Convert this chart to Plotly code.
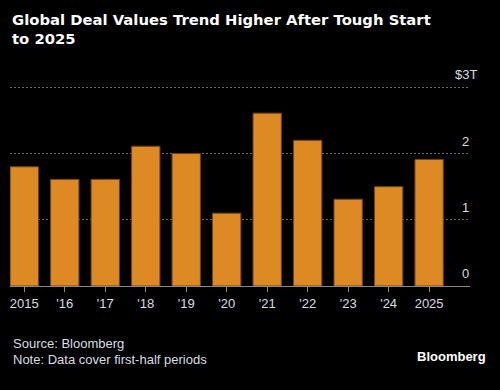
import plotly.graph_objects as go

categories = ["2015", "'16", "'17", "'18", "'19", "'20", "'21", "'22", "'23", "'24", "2025"]
values = [1.80, 1.61, 1.61, 2.11, 2.00, 1.10, 2.61, 2.20, 1.31, 1.50, 1.91]
y_tick_vals = [0, 1, 2, 3]
y_tick_text = ["0", "1", "2", "$3T"]

W, H = 500, 390
L, R, T, B = 10, 30, 84, 104
PW, PH = W - L - R, H - T - B

def px(x):
    return (x - L) / PW

def py(y):
    return (H - B - y) / PH

BAR = "#de8a24"
TXT = "#d9dde2"
FONT = "Liberation Sans"

fig = go.Figure()
fig.add_trace(go.Bar(
    x=list(range(len(categories))), y=values,
    marker=dict(color=BAR, line=dict(color="#6e4512", width=1)),
    hoverinfo="skip",
))

annotations = []
for v, t in zip(y_tick_vals, y_tick_text):
    annotations.append(dict(
        x=1, xref="paper", y=v, yref="y", text=t, showarrow=False,
        xanchor="right", yanchor="bottom", yshift=3,
        xshift=9 if t.endswith("T") else 1,
        font=dict(family=FONT, size=13, color=TXT),
    ))

annotations += [
    dict(x=px(11), y=py(343), xref="paper", yref="paper", text="Source: Bloomberg",
         showarrow=False, xanchor="left", yanchor="middle",
         font=dict(family=FONT, size=13, color=TXT)),
    dict(x=px(11), y=py(359), xref="paper", yref="paper", text="Note: Data cover first-half periods",
         showarrow=False, xanchor="left", yanchor="middle",
         font=dict(family=FONT, size=13, color=TXT)),
    dict(x=px(488), y=py(356), xref="paper", yref="paper", text="<b>Bloomberg</b>",
         showarrow=False, xanchor="right", yanchor="middle",
         font=dict(family=FONT, size=13, color="#ffffff")),
    dict(x=px(10), y=py(20), xref="paper", yref="paper",
         text="<b>Global Deal Values Trend Higher After Tough Start</b>",
         showarrow=False, xanchor="left", yanchor="middle",
         font=dict(family="DejaVu Sans", size=14.8, color="#ffffff")),
    dict(x=px(10), y=py(38), xref="paper", yref="paper",
         text="<b>to 2025</b>",
         showarrow=False, xanchor="left", yanchor="middle",
         font=dict(family="DejaVu Sans", size=14.8, color="#ffffff")),
]

fig.update_layout(
    width=W, height=H,
    margin=dict(l=L, r=R, t=T, b=B, pad=0),
    paper_bgcolor="#000000", plot_bgcolor="#000000",
    showlegend=False, bargap=0.3,
    annotations=annotations,
    xaxis=dict(
        tickmode="array", tickvals=list(range(len(categories))), ticktext=categories,
        range=[-0.353, 11.01], showgrid=False, zeroline=False,
        showline=True, linecolor="#8a8a8a", linewidth=1,
        ticks="outside", ticklen=5, tickcolor="#8a8a8a", tickwidth=1,
        tickfont=dict(family=FONT, size=13, color=TXT),
        fixedrange=True,
    ),
    yaxis=dict(
        range=[0, 3.05], tickvals=[1, 2, 3], showticklabels=False,
        showgrid=True, gridcolor="#6a6a6a", gridwidth=1, griddash="2px,2px",
        zeroline=False, showline=False, fixedrange=True,
    ),
)

fig.write_html(
    "out.html",
    config={"displayModeBar": False, "staticPlot": True},
    post_script="document.body.style.margin='0';document.body.style.overflow='hidden';"
                "document.body.style.background='#000';",
)
